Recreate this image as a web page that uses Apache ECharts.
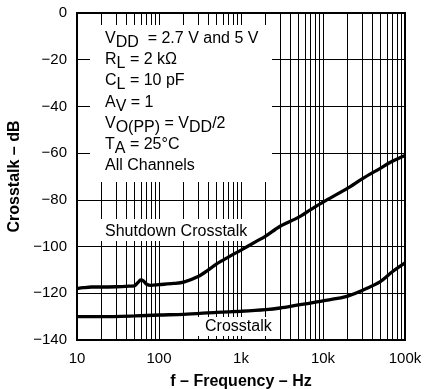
<!DOCTYPE html>
<html>
<head>
<meta charset="utf-8">
<script src="https://cdn.jsdelivr.net/npm/echarts@6/dist/echarts.min.js"></script>
<style>
html,body{margin:0;padding:0;background:#fff;}
#c{width:426px;height:389px;}
</style>
</head>
<body>
<div id="c"></div>
<script>
// ---- data ----
const shutdownFreq = [10, 12, 15, 20, 30, 40, 50, 55, 60, 65, 70, 80, 100, 150, 200, 300, 400, 500, 700, 1000, 1500, 2000, 3000, 5000, 7000, 10000, 20000, 30000, 50000, 70000, 100000];
const shutdownDb   = [-118, -117.6, -117.3, -117.3, -117.2, -117, -116.8, -115.5, -114.3, -114.8, -116, -116.6, -116.3, -115.8, -115.2, -112.8, -110, -107.5, -104.5, -101.5, -98, -95.5, -91.3, -87.5, -84.3, -81, -75, -71, -66.5, -63.5, -61];
const crossFreq = [10, 20, 50, 100, 200, 500, 1000, 2000, 3000, 5000, 7000, 10000, 15000, 20000, 30000, 50000, 70000, 100000];
const crossDb   = [-130, -130, -129.7, -129.3, -129, -128.2, -127.7, -127, -126.3, -125, -124.2, -123.2, -122.2, -121.2, -118.8, -115, -110.8, -107];
const gridFreqs = [20,30,40,50,60,70,80,90,100,200,300,400,500,600,700,800,900,1000,2000,3000,4000,5000,6000,7000,8000,9000,10000,20000,30000,40000,50000,60000,70000,80000,90000];
const xTickValues = [10, 100, 1000, 10000, 100000];
const xTickLabels = ['10', '100', '1k', '10k', '100k'];
const yTicks = [0, -20, -40, -60, -80, -100, -120, -140];
const seriesNames = ['Shutdown Crosstalk', 'Crosstalk'];
const conditionLines = [
  '{n|V}{s|DD}{n|  = 2.7 V and 5 V}',
  '{n|R}{s|L}{n| = 2 kΩ}',
  '{n|C}{s|L}{n| = 10 pF}',
  '{n|A}{s|V}{n| = 1}',
  '{n|V}{s|O(PP)}{n| = V}{s|DD}{n|/2}',
  '{n|T}{s|A}{n| = 25°C}',
  '{n|All Channels}'
];
// white boxes behind annotations: [f1, dB1, f2, dB2]
const boxes = [
  [14.4, -5.1, 2390, -72.4],
  [19, -88.2, 1183, -97.6],
  [290, -130.1, 2800, -138.3]
];

const FONT = 'Liberation Sans, Arial, Helvetica, sans-serif';
const chart = echarts.init(document.getElementById('c'), null, {renderer: 'canvas'});

const rich = {
  n: {fontSize: 16, fontFamily: FONT, color: '#000', verticalAlign: 'top', lineHeight: 18},
  s: {fontSize: 16, fontFamily: FONT, color: '#000', verticalAlign: 'top', lineHeight: 18, padding: [4, 0, 0, 0]}
};
const capCenters = [38.5, 59.7, 80.9, 102.1, 123.3, 144.5, 165.7];
const graphics = conditionLines.map((t, i) => ({
  type: 'text', left: 105, top: capCenters[i] - 8, z: 100,
  style: {text: t, rich: rich, font: '16px ' + FONT, fill: '#000', verticalAlign: 'top'}
}));
graphics.push({type: 'text', x: 105, y: 231.5, z: 100,
  style: {text: seriesNames[0], font: '16px ' + FONT, fill: '#000', verticalAlign: 'middle'}});
graphics.push({type: 'text', x: 205, y: 327, z: 100,
  style: {text: seriesNames[1], font: '16px ' + FONT, fill: '#000', verticalAlign: 'middle'}});

chart.setOption({
  animation: false,
  backgroundColor: '#fff',
  grid: {left: 77, right: 21, top: 13, bottom: 49, show: true, borderColor: '#000', borderWidth: 2,
    backgroundColor: 'transparent', containLabel: false, outerBoundsMode: 'none'},
  xAxis: {
    type: 'log', logBase: 10, min: 10, max: 100000,
    name: 'f – Frequency – Hz', nameLocation: 'middle', nameGap: 34,
    nameTextStyle: {fontSize: 16, fontWeight: 'bold', fontFamily: FONT, color: '#000'},
    axisLine: {show: false}, axisTick: {show: false}, splitLine: {show: false},
    axisLabel: {fontSize: 15, fontFamily: FONT, color: '#000', margin: 11,
      formatter: v => { const i = xTickValues.findIndex(t => Math.abs(t - v) / t < 1e-6); return i >= 0 ? xTickLabels[i] : ''; }}
  },
  yAxis: {
    type: 'value', min: -140, max: 0, interval: 20,
    name: 'Crosstalk – dB', nameLocation: 'middle', nameGap: 46,
    nameTextStyle: {fontSize: 16, fontWeight: 'bold', fontFamily: FONT, color: '#000'},
    axisLine: {show: false}, axisTick: {show: false},
    splitLine: {show: true, lineStyle: {color: '#000', width: 1}},
    axisLabel: {fontSize: 15, fontFamily: FONT, color: '#000', margin: 10,
      formatter: v => yTicks.includes(v) ? String(v).replace('-', '\u2212') : ''}
  },
  graphic: graphics,
  series: [
    {type: 'line', data: [], z: 1, silent: true,
      markLine: {silent: true, symbol: ['none', 'none'], label: {show: false}, z: 1,
        lineStyle: {color: '#000', width: 1, type: 'solid'},
        data: gridFreqs.map(f => ({xAxis: f}))}},
    {type: 'custom', z: 5, silent: true, data: boxes,
      encode: {x: [0, 2], y: [1, 3]},
      renderItem: (params, api) => {
        const p1 = api.coord([api.value(0), api.value(1)]);
        const p2 = api.coord([api.value(2), api.value(3)]);
        return {type: 'rect', shape: {x: Math.min(p1[0], p2[0]), y: Math.min(p1[1], p2[1]),
          width: Math.abs(p2[0] - p1[0]), height: Math.abs(p2[1] - p1[1])},
          style: {fill: '#fff', stroke: null}};
      }},
    {name: seriesNames[0], type: 'line', z: 10, showSymbol: false, smooth: 0.3,
      lineStyle: {color: '#000', width: 3.3}, data: shutdownFreq.map((f, i) => [f, shutdownDb[i]])},
    {name: seriesNames[1], type: 'line', z: 10, showSymbol: false, smooth: 0.3,
      lineStyle: {color: '#000', width: 3.3}, data: crossFreq.map((f, i) => [f, crossDb[i]])}
  ]
});
</script>
</body>
</html>
